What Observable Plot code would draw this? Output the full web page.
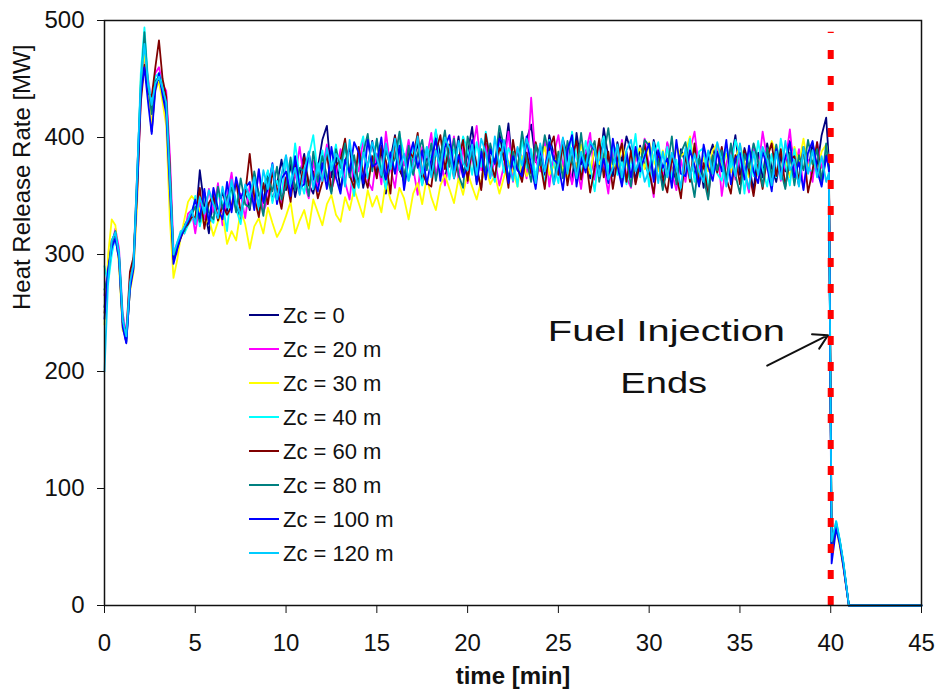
<!DOCTYPE html>
<html>
<head>
<meta charset="utf-8">
<script src="https://cdn.jsdelivr.net/npm/d3@7"></script>
<script src="https://cdn.jsdelivr.net/npm/@observablehq/plot@0.6"></script>
<style>
  html, body { margin: 0; padding: 0; background: #ffffff; }
  #chart { width: 940px; height: 694px; }
</style>
</head>
<body>
<div id="chart"></div>
<script>
// ---- sampling grid (minutes) ----
const time = [
  0,0.2,0.4,0.6,0.8,1,1.2,1.4,1.6,1.8,2,2.2,2.4,2.6,2.8,3,3.2,3.4,3.6,3.8,4,4.2,4.4,4.6,4.8,
  5,5.25,5.5,5.75,6,6.25,6.5,6.75,7,7.25,7.5,7.75,8,8.25,8.5,8.75,9,9.25,9.5,9.75,
  10,10.25,10.5,10.75,11,11.25,11.5,11.75,12,12.25,12.5,12.75,13,13.25,13.5,13.75,14,14.25,14.5,14.75,
  15,15.25,15.5,15.75,16,16.25,16.5,16.75,17,17.25,17.5,17.75,18,18.25,18.5,18.75,19,19.25,19.5,19.75,
  20,20.25,20.5,20.75,21,21.25,21.5,21.75,22,22.25,22.5,22.75,23,23.25,23.5,23.75,24,24.25,24.5,24.75,
  25,25.25,25.5,25.75,26,26.25,26.5,26.75,27,27.25,27.5,27.75,28,28.25,28.5,28.75,29,29.25,29.5,29.75,
  30,30.25,30.5,30.75,31,31.25,31.5,31.75,32,32.25,32.5,32.75,33,33.25,33.5,33.75,34,34.25,34.5,34.75,
  35,35.25,35.5,35.75,36,36.25,36.5,36.75,37,37.25,37.5,37.75,38,38.25,38.5,38.75,39,39.25,39.5,39.75,
  39.9,40.05,40.3,40.5,40.7,41,45
];

// ---- heat release rate [MW] per series ----
const zc0 = [
  255,280,305,315,295,240,225,270,295,370,445,465,440,405,445,450,438,425,360,295,305,316,325,330,335,
  326,372,341,318, 349,330,355,337, 362,341,329,356, 338,367,351,344, 371,346,360,381,
  355,377,349,368, 386,360,352,374, 398,410,366,383, 355,379,392,362, 385,357,376,397,
  368,390,352,381, 402,372,364,391, 378,396,360,385, 371,405,384,362, 392,374,401,368,
  386,409,372,357, 395,378,363,404, 381,412,370,390, 366,398,411,379, 393,368,402,385,
  372,399,383,361, 404,377,389,365, 392,372,408,383, 367,396,379,401, 388,362,393,376,
  369,398,381,358, 395,374,363,390, 378,399,366,385, 357,382,394,371, 390,365,379,402,
  368,391,376,355, 387,366,395,374, 362,384,371,397, 380,359,392,370, 395,375,402,417,
  380,50,68,55,35,0,0
];
const zc20 = [
  265,290,308,322,305,250,232,278,290,350,435,470,450,430,455,460,445,440,385,305,300,320,318,335,338,
  318,345,330,356, 336,361,325,348, 370,338,352,331, 359,343,372,336, 348,376,355,341,
  384,352,366,392, 361,348,380,357, 373,394,355,369, 390,362,347,382, 371,399,363,355,
  386,360,405,374, 357,389,376,398, 374,351,392,383, 404,368,386,359, 380,401,364,392,
  361,387,410,372, 394,366,381,359, 376,405,362,391, 383,365,434,380, 371,397,358,386,
  402,375,392,360, 378,356,387,404, 364,393,375,352, 389,371,398,366, 357,384,373,399,
  375,349,390,368, 396,370,355,381, 362,389,405,373, 384,358,371,395, 350,378,392,364,
  386,369,353,394, 371,405,382,360, 393,363,378,407, 369,390,357,381, 362,396,374,383,
  375,55,70,52,33,0,0
];
const zc30 = [
  240,300,330,325,290,235,230,268,285,345,450,472,440,410,440,448,430,410,330,280,295,315,330,345,350,
  346,338,325,331, 316,328,335,309, 320,312,338,326, 305,324,331,318, 340,327,315,322,
  333,345,318,329, 338,322,347,336, 325,343,351,334, 328,349,338,356, 344,332,355,341,
  350,336,362,347, 339,357,348,330, 352,361,343,366, 349,338,359,368, 356,344,365,351,
  370,358,347,363, 375,360,368,352, 366,380,371,358, 384,367,374,362, 379,392,368,376,
  388,371,365,383, 375,394,380,369, 392,377,386,366, 381,370,395,378, 367,384,391,373,
  396,380,371,389, 377,365,393,384, 388,401,374,368, 383,371,389,395, 376,386,370,381,
  394,379,366,387, 371,390,382,397, 386,373,380,366, 392,378,399,375, 380,371,388,394,
  378,58,66,50,32,0,0
];
const zc40 = [
  290,275,300,316,302,248,226,274,290,365,455,494,448,430,452,455,446,432,372,300,310,320,318,325,330,
  350,324,340,333, 327,352,345,320, 360,339,326,354, 347,368,336,358, 372,344,363,352,
  381,358,395,366, 352,384,402,369, 389,363,377,394, 366,392,372,350, 386,401,365,379,
  398,374,356,388, 370,403,385,363, 395,377,359,392, 382,407,371,389, 364,390,378,401,
  389,368,396,375, 405,381,362,394, 370,391,383,358, 399,374,390,367, 386,359,398,378,
  361,393,372,405, 383,366,397,376, 354,388,401,371, 394,368,379,360, 377,403,366,390,
  358,384,396,371, 392,365,381,355, 376,399,362,388, 391,357,380,369, 363,394,374,398,
  385,352,389,367, 397,373,358,386, 366,399,377,359, 390,362,385,373, 371,393,364,388,
  370,52,72,56,36,0,0
];
const zc60 = [
  250,285,312,318,298,242,232,285,298,355,430,462,438,435,460,483,450,435,375,296,306,314,322,326,332,
  332,357,322,344, 351,329,342,334, 341,363,336,352, 386,349,332,361, 343,370,356,339,
  366,345,379,352, 383,359,371,348, 362,387,354,376, 381,399,368,357, 392,370,357,384,
  365,393,380,352, 401,376,362,389, 383,404,370,361, 358,388,402,373, 394,365,381,398,
  363,392,376,355, 403,380,366,391, 385,357,398,374, 362,387,369,396, 379,356,390,401,
  368,395,359,383, 397,364,385,353, 374,399,366,388, 356,381,395,362, 389,360,378,394,
  371,352,387,366, 353,383,368,348, 386,362,395,359, 378,349,384,370, 392,365,352,385,
  360,389,371,350, 377,356,383,395, 367,390,358,381, 384,363,392,353, 372,396,361,385,
  376,48,68,54,34,0,0
];
const zc80 = [
  270,282,310,320,300,245,228,272,294,362,442,490,445,420,448,452,440,428,368,298,308,318,320,330,334,
  341,328,353,336, 330,358,339,349, 357,336,365,343, 340,371,352,333, 366,354,375,347,
  359,383,355,374, 371,350,388,362, 384,367,352,390, 374,395,366,385, 360,387,403,371,
  399,366,389,375, 382,405,361,393, 368,386,398,372, 395,363,384,406, 375,399,368,357,
  401,384,362,390, 370,395,377,410, 392,364,388,372, 405,381,362,394, 376,402,385,360,
  388,365,397,379, 368,404,372,386, 397,362,384,408, 377,393,360,384, 358,388,376,398,
  393,367,382,355, 374,401,360,387, 396,371,349,382, 366,347,385,372, 389,361,395,368,
  352,386,374,395, 380,358,391,366, 394,372,356,387, 359,385,372,398, 377,390,360,395,
  372,50,70,55,36,0,0
];
const zc100 = [
  245,288,306,314,296,238,224,270,288,358,438,460,430,403,440,455,436,420,355,292,304,315,323,328,336,
  347,331,356,326, 357,339,330,362, 336,366,348,357, 362,338,373,345, 356,378,343,365,
  371,350,384,357, 360,387,366,354, 378,356,392,366, 352,381,370,396, 387,361,398,375,
  378,400,364,387, 369,393,355,381, 396,374,389,360, 381,399,363,392, 402,371,385,366,
  375,398,360,388, 364,390,378,399, 395,361,384,372, 367,401,375,356, 391,370,396,381,
  377,355,389,402, 358,384,370,396, 389,367,382,361, 399,376,358,388, 366,392,371,384,
  395,362,389,374, 382,357,398,369, 367,389,376,358, 394,375,363,388, 371,398,360,382,
  387,364,393,371, 361,388,375,354, 390,368,383,396, 366,379,355,387, 397,372,358,384,
  374,36,66,52,33,0,0
];
const zc120 = [
  200,278,312,319,300,244,230,276,292,368,448,480,445,428,446,452,442,430,365,300,310,318,324,330,338,
  326,349,335,355, 343,331,358,340, 364,345,333,360, 349,366,341,372, 356,377,347,369,
  385,360,374,351, 372,388,356,378, 363,391,372,386, 380,358,398,370, 357,387,375,396,
  383,368,395,373, 399,372,386,363, 377,401,368,392, 366,389,374,400, 391,365,397,378,
  372,394,368,399, 387,365,401,375, 398,377,363,392, 376,399,386,361, 395,371,388,360,
  378,400,369,391, 365,388,374,397, 390,367,398,364, 374,394,366,389, 398,371,383,362,
  372,396,361,388, 366,387,374,357, 391,365,386,371, 362,389,369,396, 380,358,385,367,
  395,373,356,388, 368,392,381,359, 388,364,397,372, 381,358,392,369, 389,366,384,362,
  370,55,72,56,37,0,0
];

const seriesNames = ["Zc = 0", "Zc = 20 m", "Zc = 30 m", "Zc = 40 m", "Zc = 60 m", "Zc = 80 m", "Zc = 100 m", "Zc = 120 m"];
const seriesColors = ["#000080", "#ff00ff", "#ffff00", "#00ffff", "#800000", "#008080", "#0000ff", "#00ccff"];
const seriesValues = [zc0, zc20, zc30, zc40, zc60, zc80, zc100, zc120];

const xTicks = [0, 5, 10, 15, 20, 25, 30, 35, 40, 45];
const yTicks = [0, 100, 200, 300, 400, 500];

// annotation: end of fuel injection
const injectionEnd = [{time: 40, from: 0, to: 490}];
const annotArrow = [{t1: 36.5, v1: 205, t2: 39.85, v2: 231}];
const annotText = [
  {time: 30.95, hrr: 234, label: "Fuel Injection"},
  {time: 30.8, hrr: 190, label: "Ends"}
];

const FONT = "'Liberation Sans', Arial, sans-serif";

const lineMarks = seriesValues.map((vals, i) =>
  Plot.line(vals.map((v, j) => ({time: time[j], hrr: v})), {
    x: "time", y: "hrr", stroke: seriesColors[i], strokeWidth: 1.8
  })
);

const svg = Plot.plot({
  width: 940,
  height: 694,
  marginLeft: 104,
  marginRight: 19,
  marginTop: 20,
  marginBottom: 89,
  x: {domain: [0, 45]},
  y: {domain: [0, 500]},
  style: {fontFamily: FONT, color: "#111", background: "#ffffff"},
  marks: [
    ...lineMarks,
    Plot.ruleX(injectionEnd, {x: "time", y1: "from", y2: "to", stroke: "#ff0000", strokeWidth: 6, strokeDasharray: "9,17"}),
    Plot.frame({stroke: "#111", strokeWidth: 1.5}),
    Plot.axisX(xTicks, {tickSize: 8, tickPadding: 20, fontSize: 24, label: null}),
    Plot.axisY(yTicks, {tickSize: 7, tickPadding: 13, fontSize: 24, label: null}),
    Plot.text(["Heat Release Rate [MW]"], {text: d => d, frameAnchor: "left", dx: -82, dy: -3, rotate: -90, fontSize: 24, fill: "#111"}),
    Plot.text(["time [min]"], {text: d => d, frameAnchor: "bottom", dy: 78, fontSize: 24, fontWeight: "bold", fill: "#111"}),
    Plot.arrow(annotArrow, {x1: "t1", y1: "v1", x2: "t2", y2: "v2", stroke: "#111", strokeWidth: 2, headLength: 12}),
    Plot.text(annotText, {x: "time", y: "hrr", text: "label", fontSize: 30, fill: "#111"})
  ]
});

// widen the annotation glyphs horizontally (reference text is wide-set)
const widen = {"Fuel Injection": 1.33, "Ends": 1.27};
d3.select(svg).selectAll("text").each(function () {
  const t = this.textContent;
  if (widen[t]) {
    const tr = this.getAttribute("transform") || "";
    this.setAttribute("transform", tr + " scale(" + widen[t] + ",1)");
  }
});

// legend inside the plot area
const legend = d3.select(svg).append("g")
  .attr("font-family", FONT).attr("font-size", 22).attr("text-anchor", "start");
seriesNames.forEach((name, i) => {
  const y = 315 + i * 34;
  legend.append("line")
    .attr("x1", 249).attr("x2", 279).attr("y1", y).attr("y2", y)
    .attr("stroke", seriesColors[i]).attr("stroke-width", 2);
  legend.append("text")
    .attr("x", 283).attr("y", y).attr("dy", "0.35em")
    .attr("text-anchor", "start")
    .attr("fill", "#111").text(name);
});

document.getElementById("chart").appendChild(svg);
</script>
</body>
</html>
